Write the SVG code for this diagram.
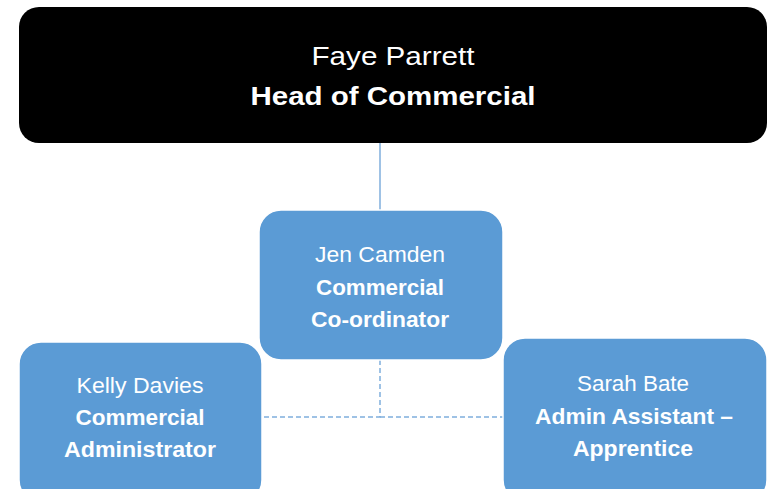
<svg xmlns="http://www.w3.org/2000/svg" width="771" height="489" viewBox="0 0 771 489">
<style>
.box{fill:#5B9BD5;stroke:#ffffff;stroke-width:1.5}
.t{font-family:"Liberation Sans","Open Sans",sans-serif;fill:#ffffff;text-anchor:middle}
.r{font-size:22px}
.b{font-size:22px;font-weight:bold}
.tr{font-size:26px}
.tb{font-size:26px;font-weight:bold}
.solid{stroke:#7FAEDD;stroke-width:1.5;fill:none}
.dash{stroke:#7FAEDD;stroke-width:1.5;fill:none;stroke-dasharray:5 3}
</style>
<rect width="771" height="489" fill="#ffffff"/>
<g id="connectors">
<line class="solid" x1="380" y1="143" x2="380" y2="210"/>
<polyline class="dash" points="380,360 380,417 262,417"/>
<line class="dash" x1="380" y1="417" x2="503" y2="417"/>
</g>
<g id="node-faye">
<rect x="19" y="7" width="748" height="136" rx="20" fill="#000000"/>
<text class="t tr" x="393" y="65" textLength="163" lengthAdjust="spacingAndGlyphs">Faye Parrett</text>
<text class="t tb" x="393" y="105" textLength="285" lengthAdjust="spacingAndGlyphs">Head of Commercial</text>
</g>
<g id="node-jen">
<rect class="box" x="259" y="210" width="244" height="150" rx="22"/>
<text class="t r" x="380" y="262" textLength="130" lengthAdjust="spacingAndGlyphs">Jen Camden</text>
<text class="t b" x="380" y="295" textLength="128" lengthAdjust="spacingAndGlyphs">Commercial</text>
<text class="t b" x="380" y="327" textLength="138" lengthAdjust="spacingAndGlyphs">Co-ordinator</text>
</g>
<g id="node-kelly">
<rect class="box" x="19" y="342" width="243" height="160" rx="22"/>
<text class="t r" x="140" y="393" textLength="127" lengthAdjust="spacingAndGlyphs">Kelly Davies</text>
<text class="t b" x="140" y="425" textLength="129" lengthAdjust="spacingAndGlyphs">Commercial</text>
<text class="t b" x="140" y="457" textLength="152" lengthAdjust="spacingAndGlyphs">Administrator</text>
</g>
<g id="node-sarah">
<rect class="box" x="503" y="338" width="264" height="164" rx="22"/>
<text class="t r" x="633" y="391" textLength="112" lengthAdjust="spacingAndGlyphs">Sarah Bate</text>
<text class="t b" x="634" y="424" textLength="198" lengthAdjust="spacingAndGlyphs">Admin Assistant –</text>
<text class="t b" x="633" y="456" textLength="120" lengthAdjust="spacingAndGlyphs">Apprentice</text>
</g>
</svg>
